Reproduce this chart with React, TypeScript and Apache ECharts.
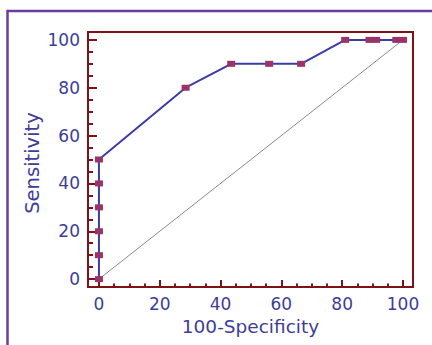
import React, { useEffect, useRef } from "react";
import * as echarts from "echarts";

const rocX = [0, 0, 0, 0, 0, 0, 28.5, 43.5, 56, 66.5, 81, 89, 91.2, 97.8, 100];
const rocY = [0, 10, 20, 30, 40, 50, 80, 90, 90, 90, 100, 100, 100, 100, 100];
const diagX = [0, 100];
const diagY = [0, 100];
const majorTicks = [0, 20, 40, 60, 80, 100];
const minorTicks = [0, 5, 10, 15, 20, 25, 30, 35, 40, 45, 50, 55, 60, 65, 70, 75, 80, 85, 90, 95, 100];

const BORDER = "#7d1315";
const LABEL = "#3d3d98";
const FONT = "DejaVu Sans";

export default function App() {
  const ref = useRef<HTMLDivElement>(null);
  useEffect(() => {
    if (!ref.current) return;
    const chart = echarts.init(ref.current, null, { renderer: "svg" });
    const tickStyle = { color: BORDER, width: 2 };
    const mkAxis = (major: boolean, isX: boolean) => ({
      type: "value",
      position: isX ? "bottom" : "left",
      offset: 0,
      min: isX ? -3.6 : -3.3,
      max: 103.3,
      axisLine: { show: false, onZero: false },
      splitLine: { show: false },
      axisTick: {
        show: true,
        inside: true,
        length: major ? (isX ? 7 : 9) : isX ? 3.5 : 5,
        lineStyle: tickStyle,
        customValues: major ? majorTicks : minorTicks,
      },
      axisLabel: major
        ? {
            show: true,
            customValues: majorTicks,
            color: LABEL,
            fontFamily: FONT,
            fontSize: 17,
            margin: 8,
          }
        : { show: false },
      ...(major
        ? {
            name: isX ? "100-Specificity" : "Sensitivity",
            nameLocation: "middle",
            nameMoveOverlap: false,
            nameGap: isX ? 30 : 46,
            nameTextStyle: isX
              ? { color: LABEL, fontFamily: FONT, fontSize: 18.5 }
              : { color: LABEL, fontFamily: FONT, fontSize: 19.5, padding: [0, 7, 0, 0] },
          }
        : {}),
    });
    chart.setOption({
      animation: false,
      grid: {
        left: 88,
        top: 32,
        width: 325,
        height: 255,
        show: true,
        borderColor: BORDER,
        borderWidth: 2,
        backgroundColor: "transparent",
      },
      xAxis: [mkAxis(true, true), mkAxis(false, true)],
      yAxis: [mkAxis(true, false), mkAxis(false, false)],
      graphic: [
        {
          type: "rect",
          shape: { x: 7.5, y: 11, width: 500, height: 400 },
          style: { fill: "none", stroke: "#6b3d9e", lineWidth: 2.5 },
          silent: true,
        },
      ],
      series: [
        {
          type: "line",
          data: diagX.map((x, i) => [x, diagY[i]]),
          symbol: "none",
          lineStyle: { color: "#8a8a8a", width: 1 },
          z: 1,
        },
        {
          type: "line",
          data: rocX.map((x, i) => [x, rocY[i]]),
          symbol: "rect",
          symbolSize: [8, 6],
          itemStyle: { color: "#9b3366" },
          lineStyle: { color: "#3c3ca8", width: 2 },
          z: 3,
        },
      ],
    });
    return () => chart.dispose();
  }, []);
  return (
    <div
      ref={ref}
      style={{ position: "fixed", left: 0, top: 0, width: 432, height: 345, background: "#fff" }}
    />
  );
}
